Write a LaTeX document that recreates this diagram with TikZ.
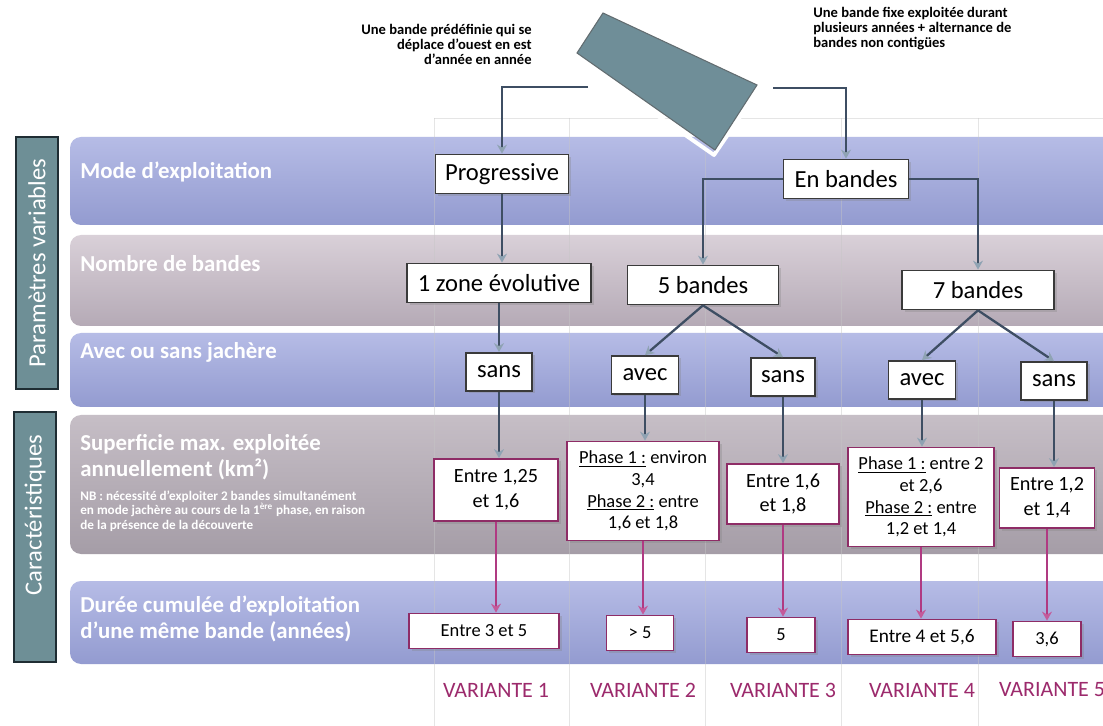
\documentclass[tikz,border=0pt]{standalone}
\usepackage{fontspec}
\setmainfont{Carlito}
\usetikzlibrary{arrows.meta,shadows}
\definecolor{bluT}{HTML}{B6BCE6}
\definecolor{bluB}{HTML}{939BD0}
\definecolor{mauT}{HTML}{D9D0D8}
\definecolor{mauB}{HTML}{B5AAB6}
\definecolor{gryT}{HTML}{C6BEC6}
\definecolor{gryB}{HTML}{A59DA7}
\definecolor{barFill}{HTML}{6E8F96}
\definecolor{barDraw}{HTML}{1F2D33}
\definecolor{lineDark}{HTML}{3E4E63}
\definecolor{arrowLight}{HTML}{8FA3B3}
\definecolor{magLine}{HTML}{B03A82}
\definecolor{magArrow}{HTML}{C45A9A}
\definecolor{varText}{HTML}{9C2A6C}
\definecolor{boxDark}{HTML}{3A3A3A}
\definecolor{plum}{HTML}{8E2C66}
\definecolor{shapeFill}{HTML}{6F8E98}
\begin{document}
\begin{tikzpicture}[x=0.02cm,y=-0.02cm,
  band/.style={rounded corners=0.22cm},
  sidebar/.style={draw=barDraw, line width=1.3pt, fill=barFill},
  sidetext/.style={rotate=90, text=white, font=\fontsize{14}{16}\selectfont},
  rowlabel/.style={anchor=west, text=white, inner sep=0, align=left, font=\bfseries\fontsize{13}{15}\selectfont},
  nblabel/.style={anchor=west, text=white, inner sep=0, align=left, font=\bfseries\fontsize{7.5}{8.2}\selectfont},
  sz/.style 2 args={minimum width=#1*0.02cm, minimum height=#2*0.02cm},
  boxT/.style={draw=boxDark, line width=1pt, fill=white, inner sep=0, align=center,
     text=black, font=\fontsize{14}{16}\selectfont,
     drop shadow={shadow xshift=0.05cm, shadow yshift=-0.05cm, opacity=0.3}},
  boxM/.style={boxT, draw=plum, font=\fontsize{11.5}{14}\selectfont},
  conn/.style={draw=lineDark, line width=1.3pt, -{Stealth[length=0.18cm,width=0.2cm,color=arrowLight]}},
  connM/.style={draw=magLine, line width=1.3pt, -{Stealth[length=0.18cm,width=0.2cm,color=magArrow]}},
  colline/.style={draw=gray!45, line width=0.5pt, opacity=0.45},
  variant/.style={text=varText, font=\fontsize{12.5}{14}\selectfont},
  note/.style={inner sep=0, font=\bfseries\fontsize{8.3}{8.5}\selectfont}
]
\useasboundingbox (0,0) rectangle (1103,726);
\clip (0,0) rectangle (1103,726);
\fill[white] (0,0) rectangle (1103,726);

% bands
\path[band, top color=bluT, bottom color=bluB] (70,137) rectangle (1150,225);
\path[band, top color=mauT, bottom color=mauB] (70,235) rectangle (1150,326);
\path[band, top color=bluT, bottom color=bluB] (70,333) rectangle (1150,407);
\path[band, top color=gryT, bottom color=gryB] (70,415) rectangle (1150,554);
\path[band, top color=bluT, bottom color=bluB] (70,581) rectangle (1150,664);

% column grid lines
\draw[colline] (434,118) -- (1103,118);
\foreach \cx in {434,569,705,841,978} \draw[colline] (\cx,118) -- (\cx,726);

% side bars
\draw[sidebar] (16,137) rectangle (58,389);
\node[sidetext] (pv) at (37,263) {Paramètres variables};
\draw[sidebar] (14,412) rectangle (56,662);
\node[sidetext] (ca) at (35,515) {Caractéristiques};

% row labels
\node[rowlabel] (l1) at (80,172) {Mode d’exploitation};
\node[rowlabel] (l2) at (80,264) {Nombre de bandes};
\node[rowlabel] (l3) at (80,352) {Avec ou sans jachère};
\node[rowlabel, font=\bfseries\fontsize{13}{14.8}\selectfont] (l4) at (80,457) {Superficie max. exploitée\\annuellement (km²)};
\node[nblabel] (nb) at (80,511) {NB : nécessité d’exploiter 2 bandes simultanément\\en mode jachère au cours de la 1\textsuperscript{ère} phase, en raison\\de la présence de la découverte};
\node[rowlabel] (l5) at (80,619) {Durée cumulée d’exploitation\\d’une même bande (années)};

% top shape
\draw[white, line width=2.2pt, line join=round] (573,57) -- (714,155) -- (761,86);
\draw[fill=shapeFill, draw=barDraw!70, line width=0.6pt] (603,13) -- (757,85) -- (715,150) -- (577,53) -- cycle;

% annotations
\node[note, anchor=north east, align=right] (nl) at (532,24) {Une bande prédéfinie qui se\\déplace d’ouest en est\\d’année en année};
\node[note, anchor=north west, align=left] (nr) at (813,7) {Une bande fixe exploitée durant\\plusieurs années + alternance de\\bandes non contigües};
\coordinate (tl) at (588,87);
\coordinate (tr) at (773,88);

% row 1
\node[boxT, sz={133}{39}] (prog) at (502,174) {Progressive};
\node[boxT, sz={125}{39}] (enb) at (846,179) {En bandes};
% row 2
\node[boxT, sz={184}{39}] (zone) at (499,283) {1 zone évolutive};
\node[boxT, sz={151}{39}] (b5) at (703,285) {5 bandes};
\node[boxT, sz={152}{39}] (b7) at (978,290) {7 bandes};
% row 3
\node[boxT, sz={66}{38}] (s1) at (499,372) {sans};
\node[boxT, sz={67}{38}] (a2) at (645,375) {avec};
\node[boxT, sz={64}{38}] (s3) at (783,377) {sans};
\node[boxT, sz={67}{38}] (a4) at (922,380) {avec};
\node[boxT, sz={66}{38}] (s5) at (1054,381) {sans};
% row 4
\node[boxM, sz={124}{62}] (r41) at (496,490) {Entre 1,25\\et 1,6};
\node[boxM, sz={152}{99}, font=\fontsize{10.5}{12.3}\selectfont] (r42) at (643,491) {\underline{Phase 1 :} environ\\3,4\\\underline{Phase 2 :} entre\\1,6 et 1,8};
\node[boxM, sz={112}{60}] (r43) at (783,494) {Entre 1,6\\et 1,8};
\node[boxM, sz={146}{99}, font=\fontsize{10.5}{12.3}\selectfont] (r44) at (921,497) {\underline{Phase 1 :} entre 2\\et 2,6\\\underline{Phase 2 :} entre\\1,2 et 1,4};
\node[boxM, sz={95}{60}] (r45) at (1047,498) {Entre 1,2\\et 1,4};
% row 5
\node[boxM, sz={150}{35}, font=\fontsize{10.5}{12}\selectfont] (r51) at (484,631) {Entre 3 et 5};
\node[boxM, sz={67}{35}, font=\fontsize{10.5}{12}\selectfont] (r52) at (640,633) {> 5};
\node[boxM, sz={68}{35}, font=\fontsize{10.5}{12}\selectfont] (r53) at (781,635) {5};
\node[boxM, sz={148}{35}, font=\fontsize{11}{12}\selectfont] (r54) at (922,637) {Entre 4 et 5,6};
\node[boxM, sz={68}{35}, font=\fontsize{10.5}{12}\selectfont] (r55) at (1047,639) {3,6};

% variant labels
\node[variant] (v1) at (496,690) {VARIANTE 1};
\node[variant] (v2) at (643,690) {VARIANTE 2};
\node[variant] (v3) at (783,690) {VARIANTE 3};
\node[variant] (v4) at (922,690) {VARIANTE 4};
\node[variant] (v5) at (1052,690) {VARIANTE 5};

% connectors
\draw[conn] (tl) -| (prog.north);
\draw[conn] (tr) -| (enb.north);
\draw[conn] (prog.south) -- (prog.south |- zone.north);
\draw[conn] (enb.west) -| (b5.north);
\draw[conn] (enb.east) -| (b7.north);
\draw[conn] (zone.south) -- (zone.south |- s1.north);
\draw[conn] (b5.south) -- (a2.north);
\draw[conn] (b5.south) -- (s3.north);
\draw[conn] (b7.south) -- (a4.north);
\draw[conn] (b7.south) -- (s5.north);
\draw[conn] (s1.south) -- (s1.south |- r41.north);
\draw[conn] (a2.south) -- (a2.south |- r42.north);
\draw[conn] (s3.south) -- (s3.south |- r43.north);
\draw[conn] (a4.south) -- (a4.south |- r44.north);
\draw[conn] (s5.south) -- (s5.south |- r45.north);
\draw[connM] (r41.south) -- (r41.south |- r51.north);
\draw[connM] (r42.south) -- (r42.south |- r52.north);
\draw[connM] (r43.south) -- (r43.south |- r53.north);
\draw[connM] (r44.south) -- (r44.south |- r54.north);
\draw[connM] (r45.south) -- (r45.south |- r55.north);
\end{tikzpicture}
\end{document}
